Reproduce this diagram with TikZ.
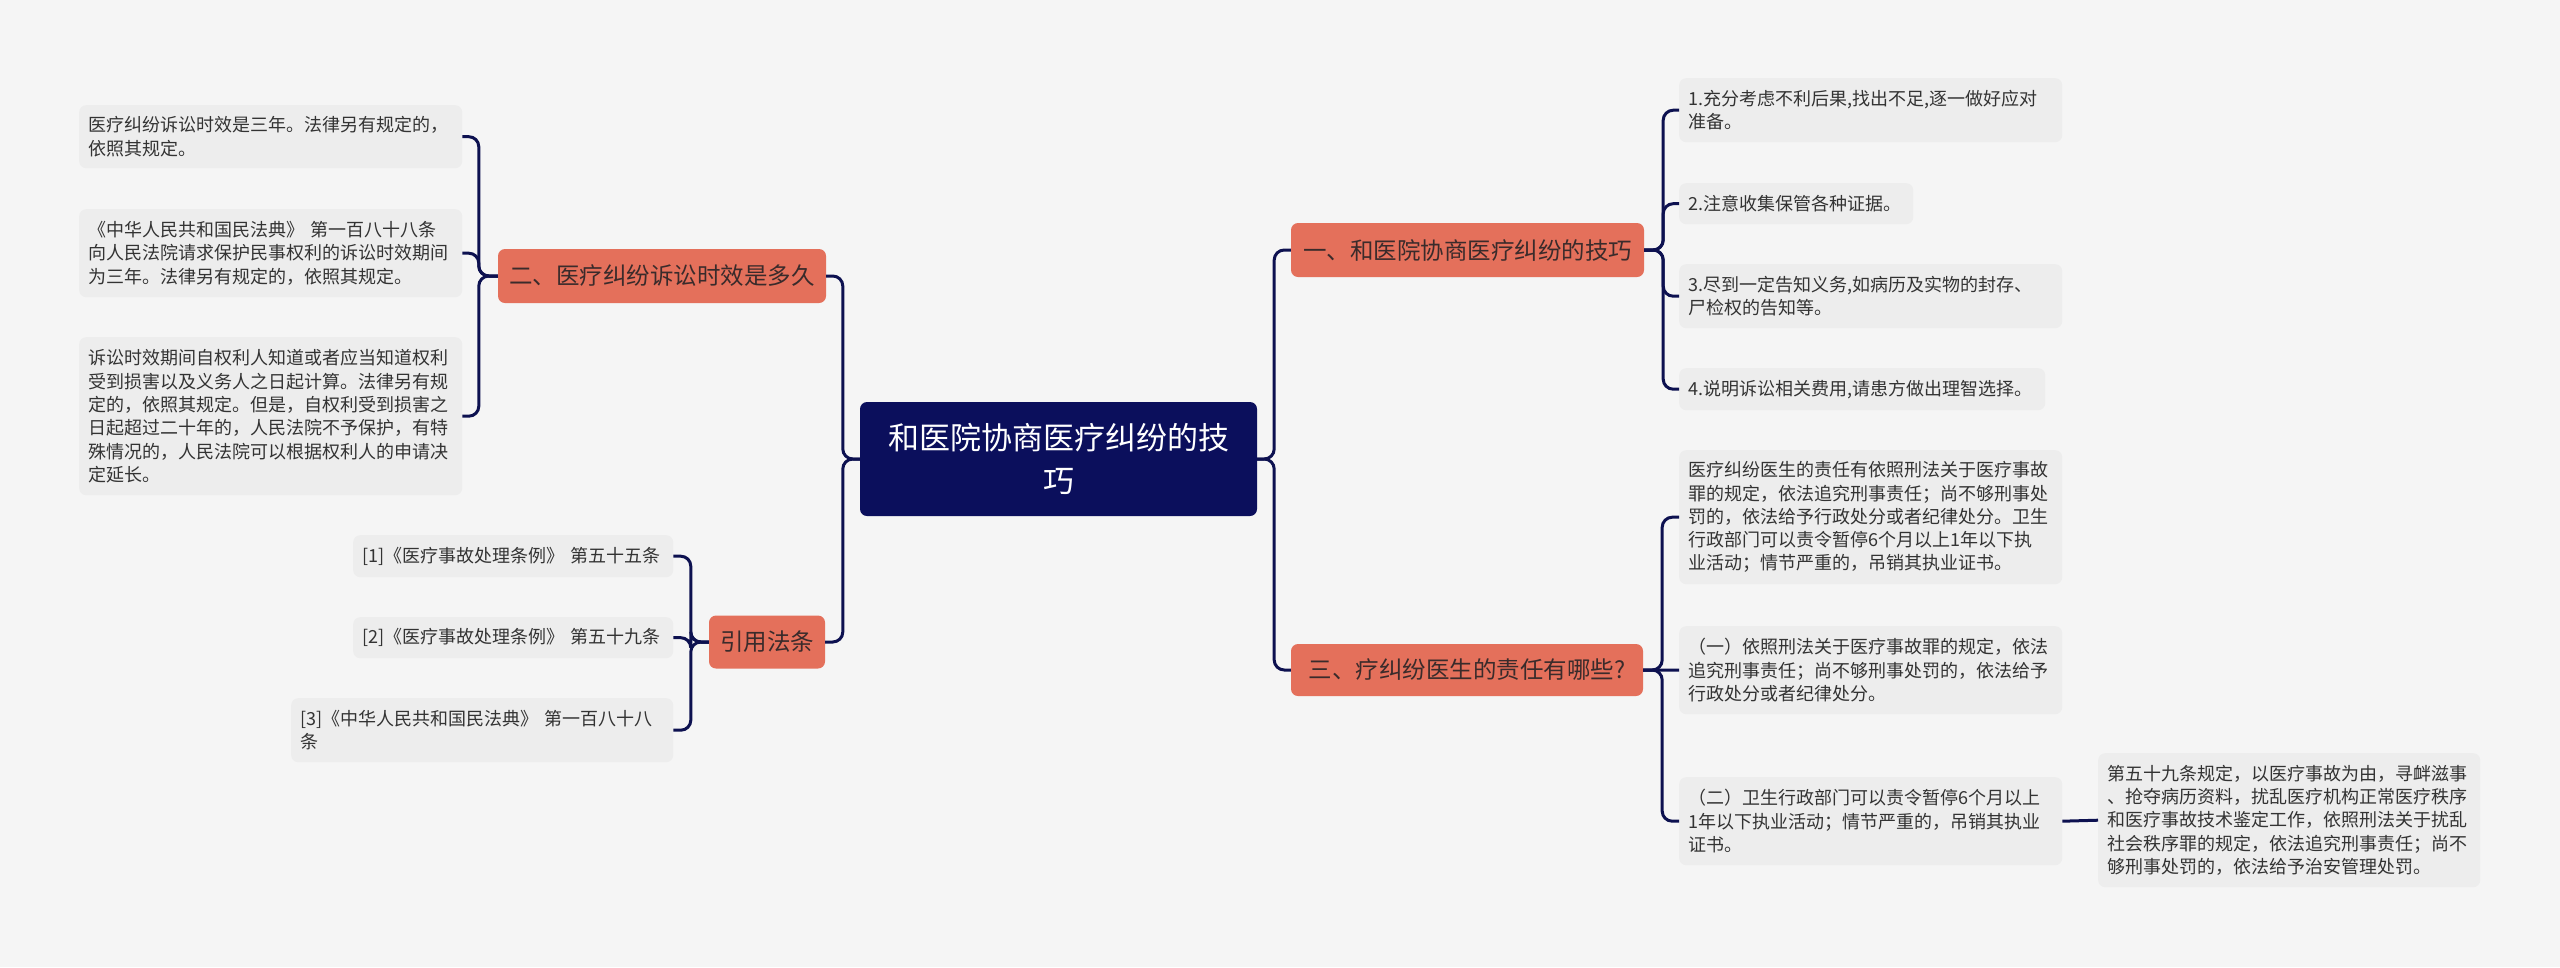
\documentclass[tikz,border=0pt]{standalone}
\usepackage{fontspec}
\setmainfont{Noto Sans CJK SC}
\definecolor{bgc}{HTML}{F5F5F5}
\definecolor{leafc}{HTML}{EDEDED}
\definecolor{leaft}{HTML}{333333}
\definecolor{branchc}{HTML}{E4705B}
\definecolor{brancht}{HTML}{3A2B2B}
\definecolor{rootc}{HTML}{0B0F5C}
\definecolor{linec}{HTML}{0D1150}
\begin{document}
\begin{tikzpicture}[x=1pt,y=-1pt,
  leaf/.style={fill=leafc, rounded corners=7pt, anchor=north west, inner xsep=9pt, inner ysep=0pt,
    align=left, font=\fontsize{18}{23.3}\selectfont, text=leaft},
  branch/.style={fill=branchc, rounded corners=7pt, inner sep=0pt, align=center,
    font=\fontsize{23.5}{28}\selectfont, text=brancht},
  rootbox/.style={fill=rootc, rounded corners=7pt, inner sep=0pt, align=center,
    font=\fontsize{31}{43}\selectfont, text=white},
  conn/.style={draw=linec, line width=3pt, rounded corners=10pt}]
\useasboundingbox[fill=bgc] (0,0) rectangle (2560,967);

% root
\node[rootbox, minimum width=397pt, minimum height=114pt, text width=380pt] (C) at (1058.5,459) {和医院协商医疗纠纷的技\\巧};

% branches
\node[branch, minimum width=353pt, minimum height=54pt] (B1) at (1467.5,250) {一、和医院协商医疗纠纷的技巧};
\node[branch, minimum width=328pt, minimum height=54pt] (B2) at (662,276) {二、医疗纠纷诉讼时效是多久};
\node[branch, minimum width=352pt, minimum height=52pt] (B3) at (1467,670) {三、疗纠纷医生的责任有哪些?};
\node[branch, minimum width=116pt, minimum height=53pt] (B4) at (767,642) {引用法条};

% left leaves of B2
\node[leaf, minimum width=383pt, minimum height=63pt, text width=365pt] (L1) at (79,105)
  {医疗纠纷诉讼时效是三年。法律另有规定的，\\依照其规定。};
\node[leaf, minimum width=383pt, minimum height=88pt, text width=365pt] (L2) at (79,209)
  {《中华人民共和国民法典》~第一百八十八条\\向人民法院请求保护民事权利的诉讼时效期间\\为三年。法律另有规定的，依照其规定。};
\node[leaf, minimum width=383pt, minimum height=158pt, text width=365pt] (L3) at (79,337)
  {诉讼时效期间自权利人知道或者应当知道权利\\受到损害以及义务人之日起计算。法律另有规\\定的，依照其规定。但是，自权利受到损害之\\日起超过二十年的，人民法院不予保护，有特\\殊情况的，人民法院可以根据权利人的申请决\\定延长。};

% leaves of B4
\node[leaf, minimum width=320pt, minimum height=42pt, text width=302pt] (R1) at (353,535)
  {[1]《医疗事故处理条例》~第五十五条};
\node[leaf, minimum width=320pt, minimum height=41pt, text width=302pt] (R2) at (353,617)
  {[2]《医疗事故处理条例》~第五十九条};
\node[leaf, minimum width=382pt, minimum height=64pt, text width=364pt] (R3) at (291,698)
  {[3]《中华人民共和国民法典》~第一百八十八\\条};

% leaves of B1
\node[leaf, minimum width=383pt, minimum height=64pt, text width=365pt] (T1) at (1679,78)
  {1.充分考虑不利后果,找出不足,逐一做好应对\\准备。};
\node[leaf, minimum width=234pt, minimum height=41pt, text width=216pt] (T2) at (1679,183)
  {2.注意收集保管各种证据。};
\node[leaf, minimum width=383pt, minimum height=64pt, text width=365pt] (T3) at (1679,264)
  {3.尽到一定告知义务,如病历及实物的封存、\\尸检权的告知等。};
\node[leaf, minimum width=366pt, minimum height=42pt, text width=348pt] (T4) at (1679,368)
  {4.说明诉讼相关费用,请患方做出理智选择。};

% leaves of B3
\node[leaf, minimum width=383pt, minimum height=134pt, text width=365pt] (M1) at (1679,450)
  {医疗纠纷医生的责任有依照刑法关于医疗事故\\罪的规定，依法追究刑事责任；尚不够刑事处\\罚的，依法给予行政处分或者纪律处分。卫生\\行政部门可以责令暂停6个月以上1年以下执\\业活动；情节严重的，吊销其执业证书。};
\node[leaf, minimum width=383pt, minimum height=88pt, text width=365pt] (M2) at (1679,626)
  {（一）依照刑法关于医疗事故罪的规定，依法\\追究刑事责任；尚不够刑事处罚的，依法给予\\行政处分或者纪律处分。};
\node[leaf, minimum width=383pt, minimum height=88pt, text width=365pt] (M3) at (1679,777)
  {（二）卫生行政部门可以责令暂停6个月以上\\1年以下执业活动；情节严重的，吊销其执业\\证书。};
\node[leaf, minimum width=382pt, minimum height=134pt, text width=364pt] (X) at (2098,753)
  {第五十九条规定，以医疗事故为由，寻衅滋事\\、抢夺病历资料，扰乱医疗机构正常医疗秩序\\和医疗事故技术鉴定工作，依照刑法关于扰乱\\社会秩序罪的规定，依法追究刑事责任；尚不\\够刑事处罚的，依法给予治安管理处罚。};

% connectors: root
\draw[conn] (C.east) -- ++(17,0) |- (B1.west);
\draw[conn] (C.east) -- ++(17,0) |- (B3.west);
\draw[conn] (C.west) -- ++(-17,0) |- (B2.east);
\draw[conn] (C.west) -- ++(-17,0) |- (B4.east);
% B2
\draw[conn] (B2.west) -- ++(-19,0) |- (L1.east);
\draw[conn] (B2.west) -- ++(-19,0) |- (L2.east);
\draw[conn] (B2.west) -- ++(-19,0) |- (L3.east);
% B4
\draw[conn] (B4.west) -- ++(-18,0) |- (R1.east);
\draw[conn] (B4.west) -- ++(-18,0) |- (R2.east);
\draw[conn] (B4.west) -- ++(-18,0) |- (R3.east);
% B1
\draw[conn] (B1.east) -- ++(19,0) |- (T1.west);
\draw[conn] (B1.east) -- ++(19,0) |- (T2.west);
\draw[conn] (B1.east) -- ++(19,0) |- (T3.west);
\draw[conn] (B1.east) -- ++(19,0) |- (T4.west);
% B3
\draw[conn] (B3.east) -- ++(19,0) |- (M1.west);
\draw[conn] (B3.east) -- (M2.west);
\draw[conn] (B3.east) -- ++(19,0) |- (M3.west);
% M3 to X
\draw[conn] (M3.east) -- (X.west);
\end{tikzpicture}
\end{document}
